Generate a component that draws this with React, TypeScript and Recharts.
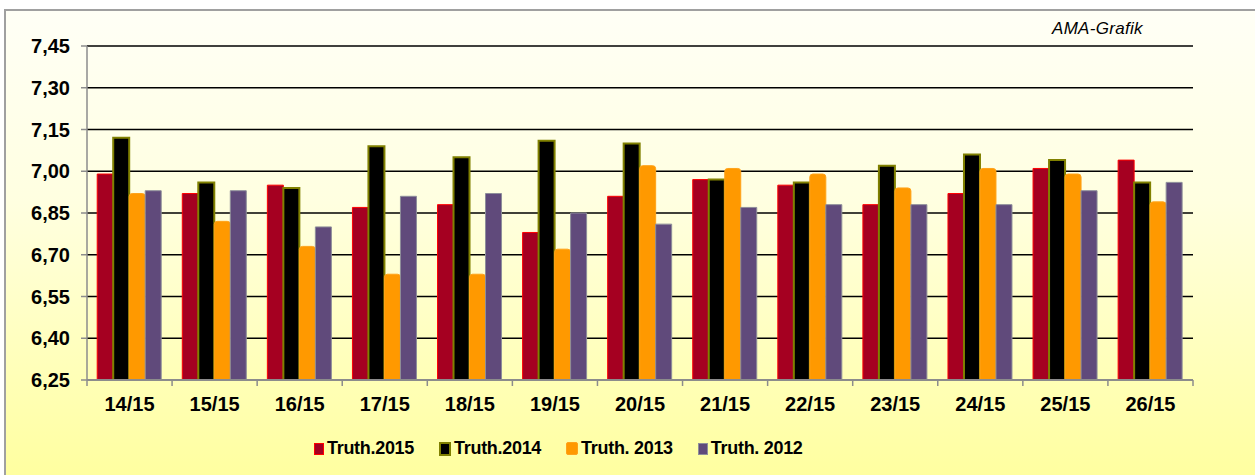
import React from "react";
import { Bar, BarChart, CartesianGrid, XAxis, YAxis } from "recharts";

const categories = ["14/15", "15/15", "16/15", "17/15", "18/15", "19/15", "20/15", "21/15", "22/15", "23/15", "24/15", "25/15", "26/15"];
const truth2015 = [6.99, 6.92, 6.95, 6.87, 6.88, 6.78, 6.91, 6.97, 6.95, 6.88, 6.92, 7.01, 7.04];
const truth2014 = [7.12, 6.96, 6.94, 7.09, 7.05, 7.11, 7.1, 6.97, 6.96, 7.02, 7.06, 7.04, 6.96];
const truth2013 = [6.92, 6.82, 6.73, 6.63, 6.63, 6.72, 7.02, 7.01, 6.99, 6.94, 7.01, 6.99, 6.89];
const truth2012 = [6.93, 6.93, 6.8, 6.91, 6.92, 6.85, 6.81, 6.87, 6.88, 6.88, 6.88, 6.93, 6.96];
const yTicks = [6.25, 6.4, 6.55, 6.7, 6.85, 7.0, 7.15, 7.3, 7.45];

const series = [
  { key: "t2015", name: "Truth.2015", fill: "#A50021", stroke: "#FF0000", sw: 1 },
  { key: "t2014", name: "Truth.2014", fill: "#000000", stroke: "#808000", sw: 2 },
  { key: "t2013", name: "Truth. 2013", fill: "#FF9900", stroke: "#FFA31A", sw: 1 },
  { key: "t2012", name: "Truth. 2012", fill: "#604A7B", stroke: "#8E8E9A", sw: 1 },
];

const data = categories.map((c, i) => ({
  cat: c,
  t2015: truth2015[i],
  t2014: truth2014[i],
  t2013: truth2013[i],
  t2012: truth2012[i],
}));

const FONT = "'Liberation Sans', Arial, sans-serif";
const BAND = (1193 - 87) / categories.length;

const XTick = (props: any) => {
  const { x, y, payload, index } = props;
  return (
    <g>
      <text x={x} y={y + 31} textAnchor="middle" fontFamily={FONT} fontWeight="bold" fontSize={20} fill="#000">
        {payload.value}
      </text>
      <line x1={x + BAND / 2} x2={x + BAND / 2} y1={y} y2={y + 6} stroke="#8c8c8c" strokeWidth={1.5} />
      {index === 0 && (
        <line x1={x - BAND / 2} x2={x - BAND / 2} y1={y} y2={y + 6} stroke="#8c8c8c" strokeWidth={1.5} />
      )}
    </g>
  );
};

export default function App() {
  return (
    <div style={{ position: "absolute", left: 0, top: 0, width: 1255, height: 475, background: "#fff", overflow: "hidden" }}>
      <div
        style={{
          position: "absolute",
          left: 4,
          top: 9,
          width: 1260,
          height: 480,
          borderLeft: "2px solid #a0a0a0",
          borderTop: "2px solid #a0a0a0",
          background: "linear-gradient(to bottom, #FFFFF6 0%, #FFFFE0 40%, #FFFF9C 100%)",
        }}
      />
      <div
        style={{
          position: "absolute",
          left: 1052,
          top: 19,
          fontFamily: FONT,
          fontStyle: "italic",
          fontSize: 17,
          letterSpacing: 0.3,
          color: "#000",
        }}
      >
        AMA-Grafik
      </div>
      <div style={{ position: "absolute", left: 0, top: 0 }}>
        <BarChart
          width={1255}
          height={475}
          data={data}
          margin={{ top: 46, right: 62, left: 0, bottom: 55 }}
          barGap={0}
          barCategoryGap="12%"
        >
          <CartesianGrid horizontal vertical={false} stroke="#000" strokeWidth={1.5} />
          <YAxis
            type="number"
            domain={[6.25, 7.45]}
            ticks={yTicks}
            allowDataOverflow
            width={87}
            tickSize={6}
            tickMargin={11}
            axisLine={{ stroke: "#8c8c8c", strokeWidth: 1.5 }}
            tickLine={{ stroke: "#8c8c8c", strokeWidth: 1.5 }}
            tick={{ fill: "#000", fontSize: 20, fontWeight: "bold", fontFamily: FONT }}
            tickFormatter={(v: number) => v.toFixed(2).replace(".", ",")}
          />
          <XAxis
            dataKey="cat"
            height={40}
            tickSize={0}
            tickMargin={0}
            interval={0}
            axisLine={{ stroke: "#8c8c8c", strokeWidth: 2 }}
            tickLine={false}
            tick={<XTick />}
          />
          {series.map((s) => (
            <Bar
              key={s.key}
              dataKey={s.key}
              name={s.name}
              fill={s.fill}
              stroke={s.stroke}
              strokeWidth={s.sw}
              radius={s.key === "t2013" ? [3, 3, 0, 0] : 0}
              isAnimationActive={false}
            />
          ))}
        </BarChart>
      </div>
      <div
        style={{
          position: "absolute",
          left: 314,
          top: 438,
          display: "flex",
          alignItems: "center",
          fontFamily: FONT,
          fontWeight: "bold",
          fontSize: 18,
          letterSpacing: -0.3,
          color: "#000",
        }}
      >
        {series.map((s, i) => (
          <div key={s.key} style={{ display: "flex", alignItems: "center", marginRight: i < series.length - 1 ? 25 : 0 }}>
            <span
              style={{
                display: "inline-block",
                width: s.key === "t2013" ? 10 : 8,
                height: s.key === "t2013" ? 11 : 10,
                background: s.fill,
                border: `${s.key === "t2014" ? 2 : 1}px solid ${s.stroke}`,
                borderRadius: s.key === "t2013" ? 2 : 0,
                marginRight: 3,
              }}
            />
            <span>{s.name}</span>
          </div>
        ))}
      </div>
    </div>
  );
}
